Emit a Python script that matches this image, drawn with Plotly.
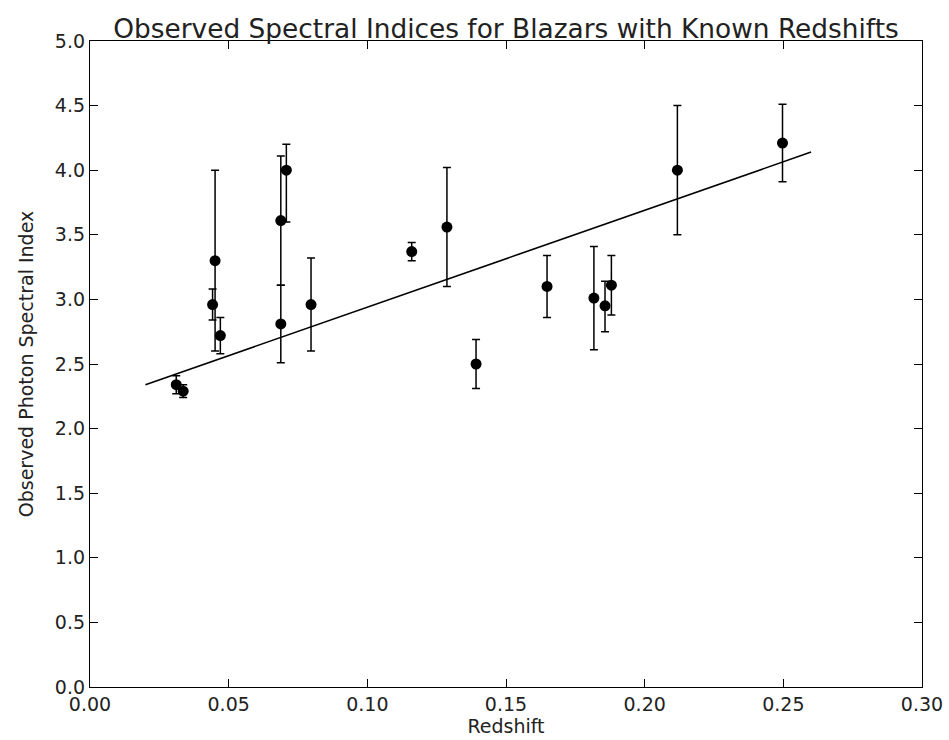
import plotly.graph_objects as go

redshift = [0.0311, 0.0336, 0.0442, 0.0451, 0.0470, 0.0688, 0.0688, 0.0708, 0.0797,
            0.1160, 0.1287, 0.1392, 0.1648, 0.1817, 0.1857, 0.1880, 0.2118, 0.2497]
index = [2.34, 2.29, 2.96, 3.30, 2.72, 3.61, 2.81, 4.00, 2.96,
         3.37, 3.56, 2.50, 3.10, 3.01, 2.95, 3.11, 4.00, 4.21]
err_plus = [0.07, 0.05, 0.12, 0.70, 0.14, 0.50, 0.30, 0.20, 0.36,
            0.07, 0.46, 0.19, 0.24, 0.40, 0.19, 0.23, 0.50, 0.30]
err_minus = [0.07, 0.05, 0.12, 0.70, 0.14, 0.50, 0.30, 0.40, 0.36,
             0.07, 0.46, 0.19, 0.24, 0.40, 0.20, 0.23, 0.50, 0.30]
fit_x = [0.02, 0.26]
fit_y = [2.34, 4.14]

x_ticks = [0.00, 0.05, 0.10, 0.15, 0.20, 0.25, 0.30]
x_ticklabels = ["0.00", "0.05", "0.10", "0.15", "0.20", "0.25", "0.30"]
y_ticks = [0.0, 0.5, 1.0, 1.5, 2.0, 2.5, 3.0, 3.5, 4.0, 4.5, 5.0]
y_ticklabels = ["0.0", "0.5", "1.0", "1.5", "2.0", "2.5", "3.0", "3.5", "4.0", "4.5", "5.0"]

FONT = "DejaVu Sans"

fig = go.Figure()
fig.add_trace(go.Scatter(
    x=fit_x, y=fit_y, mode="lines",
    line=dict(color="black", width=1.6), showlegend=False, hoverinfo="skip"))
fig.add_trace(go.Scatter(
    x=redshift, y=index, mode="markers",
    marker=dict(color="black", size=11, line=dict(width=0)),
    error_y=dict(type="data", symmetric=False, array=err_plus, arrayminus=err_minus,
                 color="black", thickness=1.5, width=4),
    showlegend=False))

axis_common = dict(
    showgrid=False, zeroline=False, showline=True, linecolor="black", linewidth=1.3,
    mirror="allticks", ticks="inside", ticklen=8, tickwidth=1, tickcolor="black",
    tickfont=dict(family=FONT, size=19, color="#222"),
)

fig.update_layout(
    width=949, height=740,
    paper_bgcolor="white", plot_bgcolor="white",
    margin=dict(l=90, r=27, t=41, b=53),
    title=dict(text="Observed Spectral Indices for Blazars with Known Redshifts",
               font=dict(family=FONT, size=26.4, color="#222"),
               x=0.5, xanchor="center", xref="paper", y=1, yref="paper", yanchor="bottom",
               pad=dict(b=3)),
    xaxis=dict(range=[0, 0.30], tickvals=x_ticks, ticktext=x_ticklabels, ticklabelstandoff=0,
               automargin=False, ticklabeloverflow="allow",
               title=dict(text="Redshift", font=dict(family=FONT, size=19, color="#222"), standoff=0),
               **axis_common),
    yaxis=dict(range=[0, 5.0], tickvals=y_ticks, ticktext=y_ticklabels,
               title=dict(text="Observed Photon Spectral Index", font=dict(family=FONT, size=19, color="#222"), standoff=16),
               **axis_common),
)

fig.write_html("out.html")
